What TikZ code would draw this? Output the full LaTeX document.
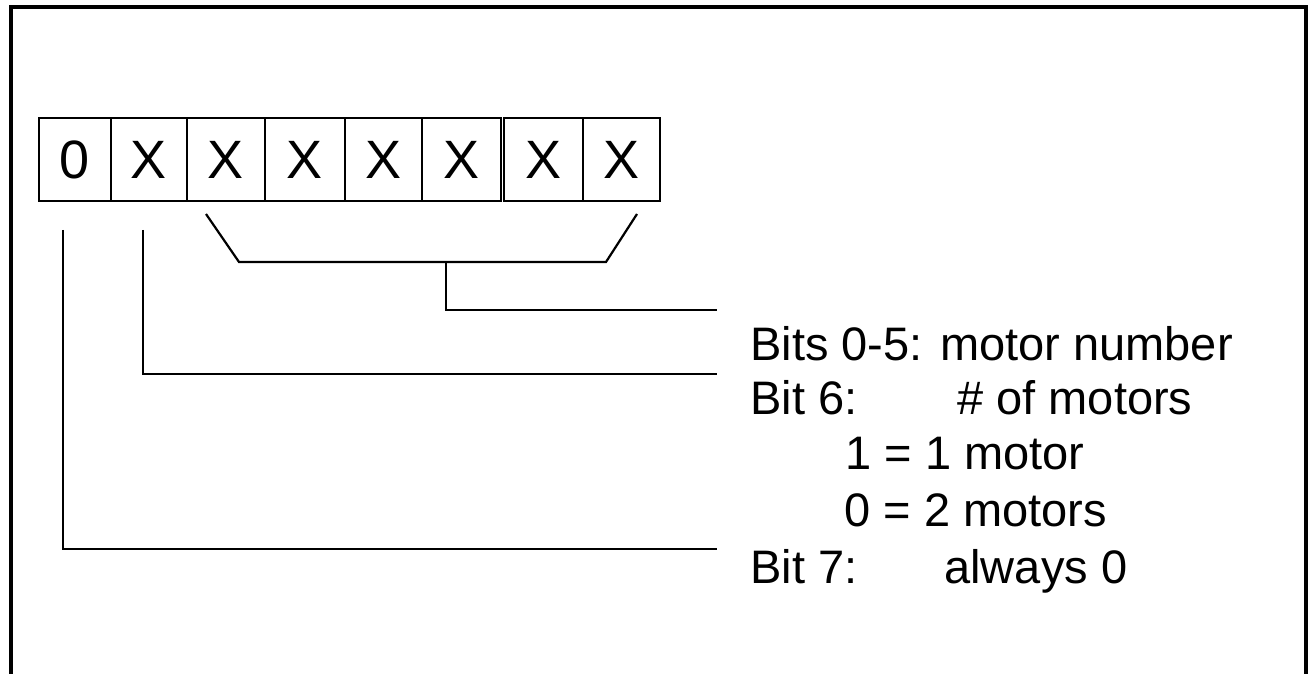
\documentclass[tikz,border=0pt]{standalone}
\usepackage{fontspec}
\setmainfont{Liberation Sans}
\usetikzlibrary{positioning}

\begin{document}
\begin{tikzpicture}[
    x=0.5pt, y=-0.5pt,
    bitbox/.style={draw, line width=1.3pt, minimum height=41.5pt, inner sep=0pt, font=\fontsize{27}{27}\selectfont},
    lead/.style={line width=1.1pt},
    desc/.style={anchor=base west, inner sep=0pt, font=\fontsize{23.5}{23.5}\selectfont}
]
\useasboundingbox (0,0) rectangle (1308,674);
% outer frame, runs off the bottom of the page
\draw[line width=2pt] (11,700) -- (11,7) -- (1306,7) -- (1306,700);

% the byte, bit 7 on the left: bit/value/left edge/right edge
\foreach \n/\v/\l/\r in {7/0/39/111, 6/X/111/187, 5/X/187/265, 4/X/265/345,
                          3/X/345/422, 2/X/422/501, 1/X/504/583, 0/X/583/660}
  \node[bitbox, minimum width={(\r-\l)*0.5pt}] (b\n) at ({(\l+\r)/2},159.5) {\v};

% field descriptions
\node[desc] (bits05) at (750,360) {Bits 0-5: motor number};
\node[desc] (bit6) at (750,414) {Bit 6:};
\node[desc] (nmotors) at (957,414) {\# of motors};
\node[desc] (one) at (845,469) {1 = 1 motor};
\node[desc] (two) at (844,526) {0 = 2 motors};
\node[desc] (bit7) at (750,583) {Bit 7:};
\node[desc] (always) at (944,583) {always 0};

% bracket under bits 0-5
\coordinate (brl) at (206,214);
\coordinate (bbl) at (239,262);
\coordinate (bbr) at (606,262);
\coordinate (brr) at (637,214);
\coordinate (mid) at (446,262);
\draw[lead] (brl) -- (bbl) -- (bbr) -- (brr);
\draw[lead] (mid) |- (717,310) coordinate (e05);

% leads for bit 6 and bit 7
\coordinate (t6) at (143,230);
\coordinate (t7) at (63,230);
\draw[lead] (t6) |- (717,374) coordinate (e6);
\draw[lead] (t7) |- (717,549) coordinate (e7);
\end{tikzpicture}
\end{document}
